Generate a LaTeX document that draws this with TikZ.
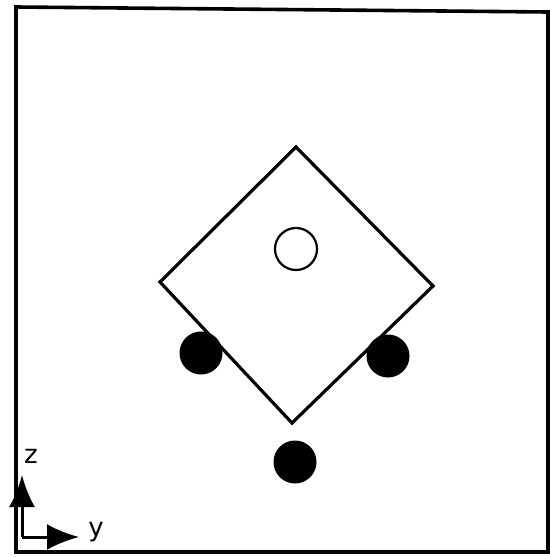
\documentclass[tikz,border=0pt]{standalone}
\usepackage{fontspec}
\setmainfont{DejaVu Sans}
\usetikzlibrary{arrows.meta}
\begin{document}
\begin{tikzpicture}[x=0.5pt,y=-0.5pt,
  frame/.style={line width=1.8pt},
  body/.style={line width=1.6pt, line join=miter},
  hole/.style={circle, draw, line width=1.1pt, minimum size=42*0.5pt, inner sep=0pt},
  ball/.style={circle, fill=black, minimum size=43*0.5pt, inner sep=0pt},
  axis/.style={line width=1.5pt, -{Latex[length=16pt,width=13pt]}},
  lbl/.style={font=\fontsize{13pt}{15pt}\selectfont, inner sep=0pt}]
\useasboundingbox (0,0) rectangle (550,557);
\fill[white] (0,0) rectangle (550,557);
\draw[frame] (16,7) -- (548,12) -- (548,552) -- (16,552) -- cycle;
% diamond
\coordinate (top) at (296,147);
\coordinate (left) at (160,282);
\coordinate (right) at (433,286);
\coordinate (bottom) at (292,423);
\draw[body] (top) -- (right) -- (bottom) -- (left) -- cycle;
\node[hole] (h) at (296,249) {};
\node[ball] (b1) at (201,353) {};
\node[ball] (b2) at (388,356) {};
\node[ball] (b3) at (295,462) {};
% axes
\coordinate (o) at (22,537);
\coordinate (zt) at (22,475);
\coordinate (yt) at (79,537);
\draw[axis] (o) -- (zt);
\draw[axis] (o) -- (yt);
\node[lbl] (zl) at (31,456) {z};
\node[lbl] (yl) at (96,532) {y};
\end{tikzpicture}
\end{document}
